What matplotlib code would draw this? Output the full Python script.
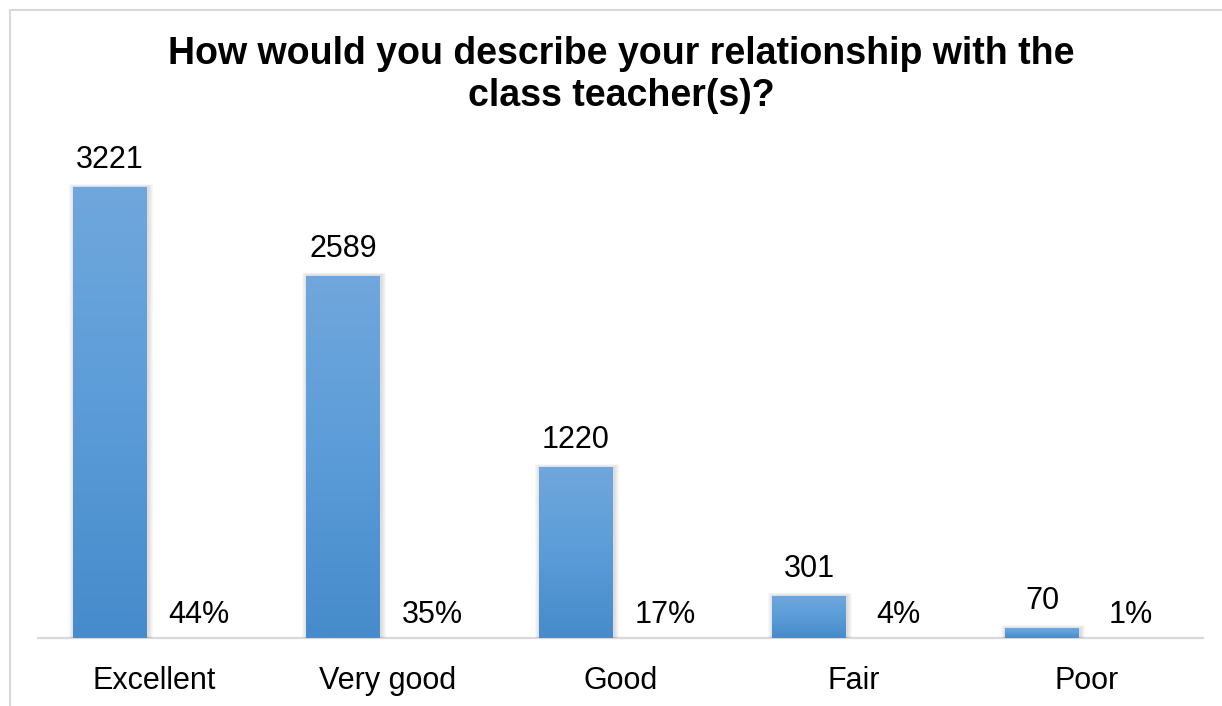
import numpy as np
import matplotlib
matplotlib.use("Agg")
import matplotlib.pyplot as plt
from matplotlib.patches import Rectangle
from matplotlib.lines import Line2D
from matplotlib.colors import LinearSegmentedColormap

plt.rcParams["font.family"] = ["Liberation Sans", "DejaVu Sans"]

categories = ["Excellent", "Very good", "Good", "Fair", "Poor"]
counts = [3221, 2589, 1220, 301, 70]
percents = [44, 35, 17, 4, 1]
title = "How would you describe your relationship with the\nclass teacher(s)?"

W, H = 1222, 706
DPI = 100
fig = plt.figure(figsize=(W / DPI, H / DPI), dpi=DPI)
fig.patch.set_facecolor("white")

# plot area in pixel terms
ax_left, ax_right, ax_base, ax_top = 38, 1203, 638, 148
ax = fig.add_axes([ax_left / W, (H - ax_base) / H,
                   (ax_right - ax_left) / W, (ax_base - ax_top) / H])
ymax = 3500
ax.set_xlim(-0.5, len(categories) - 0.5)
ax.set_ylim(0, ymax)
for s in ax.spines.values():
    s.set_visible(False)
ax.set_yticks([])
ax.set_xticks(range(len(categories)))
ax.set_xticklabels(categories, fontsize=22)
ax.tick_params(axis="x", length=0, pad=20)
ax.axhline(0, color="#D9D9D9", lw=1.6, zorder=1, clip_on=False)

px_x = (ax_right - ax_left) / len(categories)   # pixels per x unit
px_y = (ax_base - ax_top) / ymax                # pixels per y unit

bar_w = 74 / px_x
offset = 44.5 / px_x
x = np.arange(len(categories))

grad = LinearSegmentedColormap.from_list("bar", ["#468BCB", "#5B9CD8", "#70A7DC"])
gimg = np.linspace(0, 1, 256).reshape(-1, 1)

bars = ax.bar(x - offset, counts, width=bar_w, color="#5B9BD5", zorder=3)
for b in bars:
    x0, w, h = b.get_x(), b.get_width(), b.get_height()
    # soft shadow around each bar
    for k in range(1, 6):
        dx, dy = k / px_x, k / px_y
        ax.add_patch(Rectangle((x0 - dx + 1.0 / px_x, 0), w + 2 * dx,
                               h + 0.6 * dy, facecolor="black", edgecolor="none",
                               alpha=0.028, zorder=2))
    im = ax.imshow(gimg, cmap=grad, extent=[x0, x0 + w, 0, h], origin="lower",
                   aspect="auto", zorder=4, interpolation="bilinear")
    im.set_clip_path(b)

ax.set_xlim(-0.5, len(categories) - 0.5)
ax.set_ylim(0, ymax)

for xi, c in zip(x - offset, counts):
    ax.annotate(f"{c}", (xi, c), xytext=(0, 19), textcoords="offset pixels",
                ha="center", va="baseline", fontsize=22, zorder=5)
for xi, p in zip(x + offset, percents):
    ax.annotate(f"{p}%", (xi, 0), xytext=(0, 15), textcoords="offset pixels",
                ha="center", va="baseline", fontsize=22, zorder=5)

fig.text(621 / W, 1 - 36 / H, title, ha="center", va="top",
         fontsize=27, fontweight="bold", linespacing=1.22)

# chart frame
fig.add_artist(Line2D([9.5 / W, 9.5 / W], [0, 1 - 9.5 / H],
                      transform=fig.transFigure, color="#D9D9D9", lw=1.5))
fig.add_artist(Line2D([9.5 / W, 1], [1 - 9.5 / H, 1 - 9.5 / H],
                      transform=fig.transFigure, color="#D9D9D9", lw=1.5))

fig.savefig("out.png", dpi=DPI)
